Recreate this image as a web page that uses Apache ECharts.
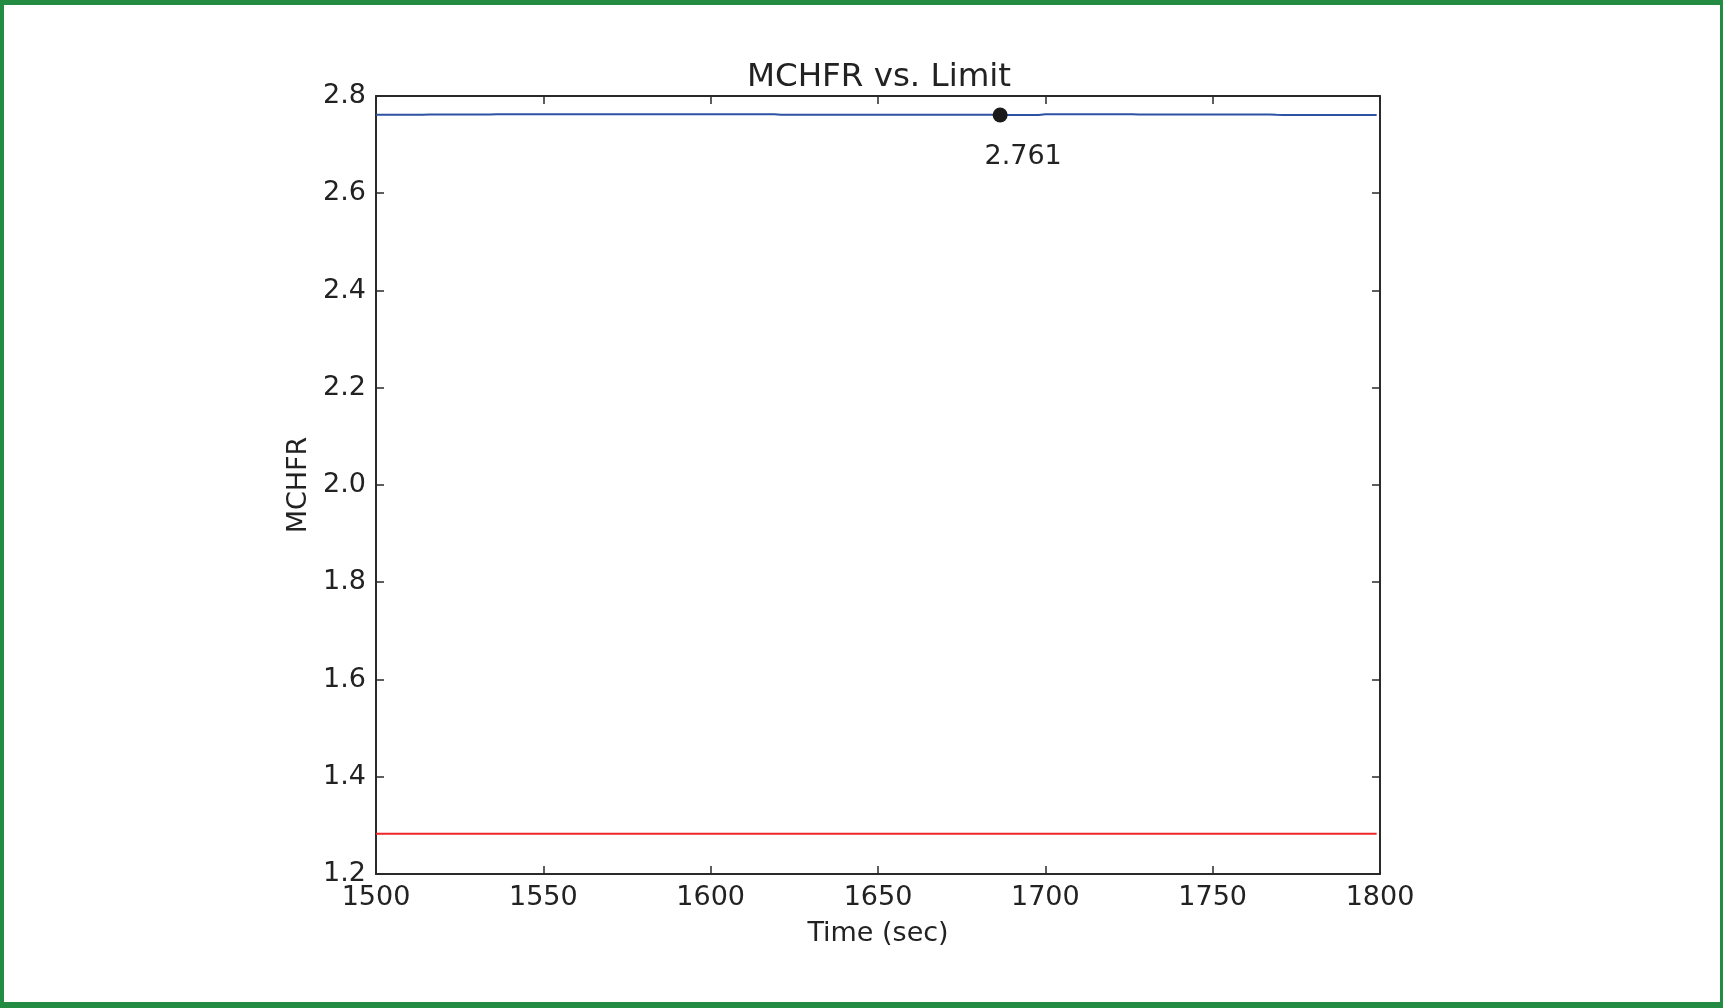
<!DOCTYPE html>
<html>
<head>
<meta charset="utf-8">
<script src="https://cdn.jsdelivr.net/npm/echarts@6/dist/echarts.min.js"></script>
<style>
html,body{margin:0;padding:0;background:#fff;}
#wrap{position:relative;width:1723px;height:1008px;}
#chart{position:absolute;left:0;top:0;width:1723px;height:1008px;}
#frame{position:absolute;left:0;top:0;width:1723px;height:1008px;box-sizing:border-box;
 border-style:solid;border-color:#248b43;border-width:5px 3px 6px 4px;pointer-events:none;}
</style>
</head>
<body>
<div id="wrap"><div id="chart"></div><div id="frame"></div></div>
<script>
// Data
const titleText = "MCHFR vs. Limit";
const xName = "Time (sec)";
const yName = "MCHFR";
const timeSec = [1500, 1514, 1516, 1518, 1520, 1522, 1524, 1526, 1528, 1530, 1532, 1534, 1536, 1538, 1619, 1621, 1684, 1686.5, 1698, 1700, 1726, 1728, 1765, 1767, 1769, 1771, 1799];
const mchfr   = [2.7615, 2.7615, 2.762, 2.7617, 2.7622, 2.7617, 2.7622, 2.7617, 2.7622, 2.7617, 2.7622, 2.7618, 2.7625, 2.7625, 2.7625, 2.7615, 2.7615, 2.761, 2.761, 2.7625, 2.7625, 2.7618, 2.7618, 2.7622, 2.7612, 2.761, 2.761];
const limitTime = [1500, 1799];
const limitValue = [1.283, 1.283];
const minPoint = [1686.5, 2.761];
const minLabel = "2.761";
const xTicks = {min: 1500, max: 1800, interval: 50};
const yTicks = {min: 1.2, max: 2.8, interval: 0.2};

const font = "DejaVu Sans";
const txt = "#222222";
const axisCol = "#2a2a2a";
const fs = 27;

const chart = echarts.init(document.getElementById('chart'), null, {renderer: 'canvas'});
const grid = {left: 376, right: 343, top: 96, bottom: 134, containLabel: false};
function xa(pos, show) {
  return {
    type: 'value', position: pos, min: xTicks.min, max: xTicks.max, interval: xTicks.interval,
    name: show ? xName : '', nameLocation: 'middle', nameGap: 46,
    nameTextStyle: {fontFamily: font, fontSize: fs, color: txt},
    axisLine: {show: true, onZero: false, lineStyle: {color: axisCol, width: 2}},
    axisTick: {show: true, inside: true, length: 8, lineStyle: {color: axisCol, width: 1.5}},
    axisLabel: {show: show, margin: 10, fontFamily: font, fontSize: fs, color: txt,
      formatter: v => String(Math.round(v))},
    splitLine: {show: false}
  };
}
function ya(pos, show) {
  return {
    type: 'value', position: pos, min: yTicks.min, max: yTicks.max, interval: yTicks.interval,
    name: show ? yName : '', nameLocation: 'middle', nameGap: 64, nameRotate: 90,
    nameTextStyle: {fontFamily: font, fontSize: fs, color: txt},
    axisLine: {show: true, onZero: false, lineStyle: {color: axisCol, width: 2}},
    axisTick: {show: true, inside: true, length: 8, lineStyle: {color: axisCol, width: 1.5}},
    axisLabel: {show: show, margin: 10, fontFamily: font, fontSize: fs, color: txt,
      formatter: v => Number(v).toFixed(1)},
    splitLine: {show: false}
  };
}
chart.setOption({
  animation: false,
  backgroundColor: '#ffffff',
  title: {text: titleText, left: 874, textAlign: 'center', top: 56,
    textStyle: {fontFamily: font, fontSize: 32.5, fontWeight: 'normal', color: txt}},
  grid: grid,
  xAxis: [xa('bottom', true), xa('top', false)],
  yAxis: [ya('left', true), ya('right', false)],
  series: [
    {type: 'line', data: timeSec.map((t, i) => [t, mchfr[i]]), showSymbol: false, symbol: 'none',
      lineStyle: {color: '#2d52a3', width: 2}, z: 2},
    {type: 'line', data: limitTime.map((t, i) => [t, limitValue[i]]), showSymbol: false, symbol: 'none',
      lineStyle: {color: '#ee2529', width: 2}, z: 2},
    {type: 'scatter', data: [minPoint], symbol: 'circle', symbolSize: 15,
      itemStyle: {color: '#1a1a1a', opacity: 1}, z: 5,
      label: {show: true, position: 'inside', offset: [23, 42], formatter: minLabel,
        fontFamily: font, fontSize: fs, color: txt}}
  ]
});
</script>
</body>
</html>
